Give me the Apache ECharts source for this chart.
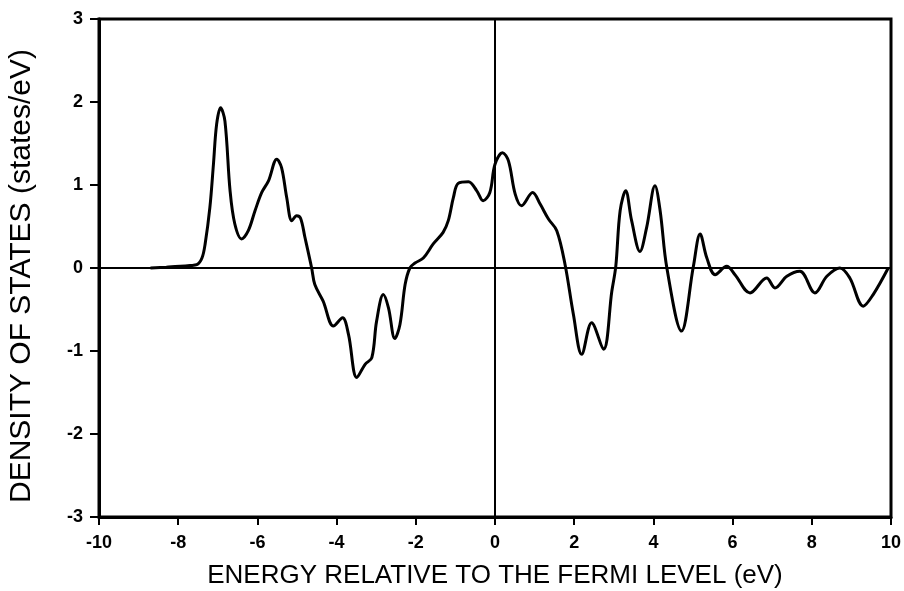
<!DOCTYPE html>
<html>
<head>
<meta charset="utf-8">
<script src="https://cdn.jsdelivr.net/npm/echarts@6/dist/echarts.min.js"></script>
<style>html,body{margin:0;padding:0;background:#fff}#c{width:904px;height:591px}</style>
</head>
<body>
<div id="c"></div>
<script>
var energy = [-8.7,-8.3,-7.95,-7.7,-7.53,-7.4,-7.32,-7.2,-7.11,-7.03,-6.93,-6.82,-6.69,-6.57,-6.4,-6.23,-6.06,-5.89,-5.72,-5.51,-5.39,-5.26,-5.13,-5.01,-4.91,-4.8,-4.63,-4.55,-4.34,-4.08,-3.85,-3.7,-3.49,-3.28,-3.11,-2.99,-2.82,-2.69,-2.53,-2.4,-2.27,-2.15,-2.02,-1.81,-1.56,-1.31,-1.18,-1.05,-0.93,-0.67,-0.46,-0.3,-0.13,0,0.19,0.34,0.51,0.67,0.95,1.14,1.35,1.56,1.77,1.98,2.19,2.44,2.74,2.95,3.05,3.16,3.3,3.45,3.66,3.83,4.04,4.17,4.34,4.71,5.01,5.18,5.35,5.56,5.85,6.06,6.44,6.86,7.07,7.37,7.7,8.08,8.38,8.71,8.96,9.3,9.55,9.93];
var dos = [0,0.01,0.02,0.03,0.04,0.12,0.29,0.73,1.25,1.73,1.93,1.77,0.93,0.53,0.35,0.45,0.69,0.91,1.05,1.31,1.21,0.85,0.57,0.63,0.6,0.37,0.0,-0.2,-0.4,-0.7,-0.6,-0.8,-1.32,-1.16,-1.08,-0.64,-0.32,-0.48,-0.85,-0.68,-0.2,0,0.06,0.12,0.29,0.43,0.57,0.85,1.02,1.04,0.93,0.81,0.91,1.25,1.39,1.29,0.89,0.75,0.91,0.77,0.59,0.45,0.04,-0.56,-1.04,-0.66,-0.98,-0.28,0.02,0.69,0.93,0.57,0.2,0.49,0.99,0.69,0,-0.76,0.02,0.41,0.12,-0.08,0.02,-0.08,-0.3,-0.12,-0.24,-0.1,-0.04,-0.3,-0.1,0,-0.12,-0.46,-0.32,0];
var xTicks = [-10,-8,-6,-4,-2,0,2,4,6,8,10];
var yTicks = [-3,-2,-1,0,1,2,3];

var points = energy.map(function(e,i){return [e,dos[i]];});
var chart = echarts.init(document.getElementById('c'), null, {renderer:'canvas'});
chart.setOption({
  animation:false,
  backgroundColor:'#fff',
  grid:{left:99,right:13,top:19,bottom:74,outerBoundsMode:'none',containLabel:false,show:true,borderColor:'#000',borderWidth:3,backgroundColor:'transparent'},
  xAxis:{type:'value',min:-10,max:10,interval:2,
    axisLine:{show:true,onZero:false,lineStyle:{color:'#000',width:3}},
    axisTick:{show:true,length:8,lineStyle:{color:'#000',width:2}},
    splitLine:{show:false},
    axisLabel:{color:'#000',fontFamily:'Liberation Sans',fontWeight:'bold',fontSize:18,margin:17,
      formatter:function(v){return xTicks.indexOf(v)>=0?String(v):'';}},
    name:'ENERGY RELATIVE TO THE FERMI LEVEL (eV)',nameLocation:'middle',nameGap:46,
    nameTextStyle:{color:'#000',fontFamily:'Liberation Sans',fontSize:26}
  },
  yAxis:{type:'value',min:-3,max:3,interval:1,
    axisLine:{show:true,onZero:false,lineStyle:{color:'#000',width:3}},
    axisTick:{show:true,length:9,lineStyle:{color:'#000',width:2}},
    splitLine:{show:false},
    axisLabel:{color:'#000',fontFamily:'Liberation Sans',fontWeight:'bold',fontSize:18,margin:16,
      formatter:function(v){return yTicks.indexOf(v)>=0?String(v):'';}},
    name:'DENSITY OF STATES (states/eV)',nameLocation:'middle',nameGap:62,
    nameTextStyle:{color:'#000',fontFamily:'Liberation Sans',fontSize:30,padding:[0,16,0,0]}
  },
  series:[{
    type:'line',data:points,smooth:0.35,symbol:'none',
    lineStyle:{color:'#000',width:3},
    markLine:{silent:true,symbol:'none',label:{show:false},
      lineStyle:{color:'#000',width:2,type:'solid'},
      data:[{xAxis:0},{yAxis:0}]}
  }]
});
</script>
</body>
</html>
